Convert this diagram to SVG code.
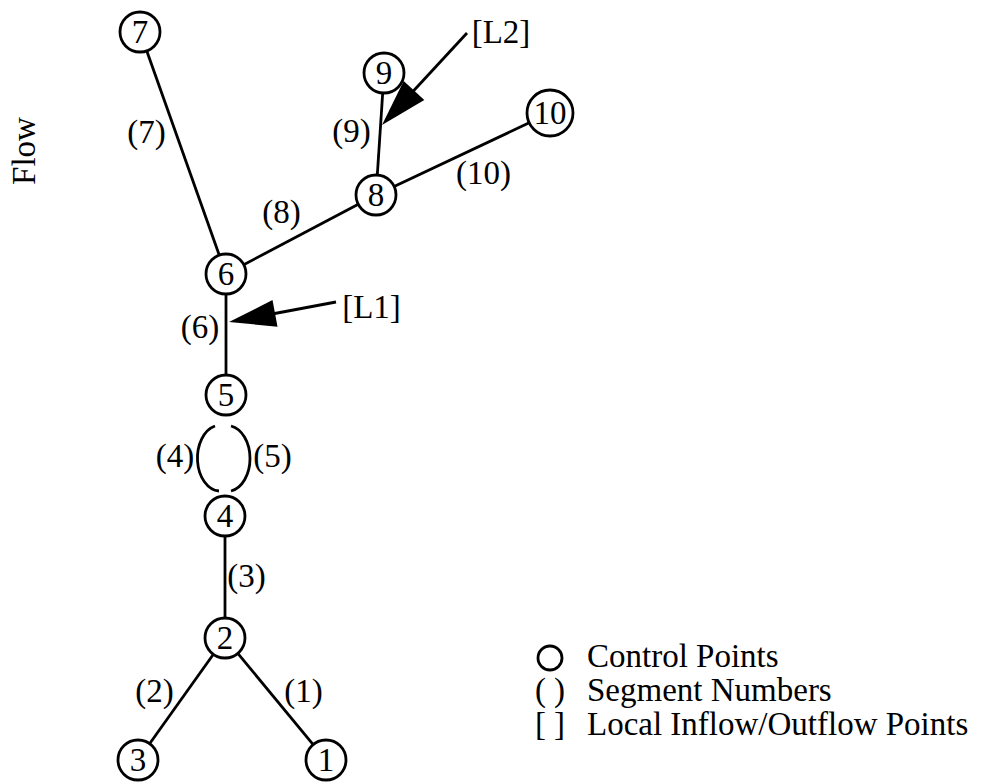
<svg xmlns="http://www.w3.org/2000/svg" width="984" height="782" viewBox="0 0 984 782">
<style>
text{font-family:"Liberation Serif","Times New Roman",serif;font-size:33px;fill:#000}
.n circle{fill:#fff;stroke:#000;stroke-width:2.8}
.n text{text-anchor:middle}
.c line,.c path{stroke:#000;stroke-width:2.8;fill:none}
.lbl{text-anchor:middle}
</style>
<rect width="984" height="782" fill="#fff"/>
<text transform="translate(35,151) rotate(-90)" text-anchor="middle">Flow</text>
<g id="connectors" class="c">
<line x1="146.7" y1="50.8" x2="219.3" y2="255.2"/>
<line x1="243.7" y1="264.7" x2="358.3" y2="204.3"/>
<line x1="382.7" y1="93" x2="377.3" y2="175"/>
<line x1="394.1" y1="186.5" x2="529.2" y2="122.8"/>
<line x1="226" y1="294" x2="226" y2="375"/>
<path d="M215 426 A23 33 0 0 0 219 491"/>
<path d="M231 426 A23 33 0 0 1 231 491"/>
<line x1="225" y1="536" x2="225" y2="618"/>
<line x1="213.4" y1="654.3" x2="149.6" y2="743.7"/>
<line x1="237.8" y1="653.4" x2="313.2" y2="744.6"/>
<line x1="336" y1="302" x2="272" y2="314"/>
<polygon points="229,322 272.5,300.1 277.5,326.7" fill="#000" stroke="none"/>
<line x1="467" y1="33" x2="412" y2="92.5"/>
<polygon points="382,125 403.7,80.9 424.3,99.9" fill="#000" stroke="none"/>
</g>
<g id="n7" class="n"><circle cx="140" cy="32" r="20"/><text x="140" y="43">7</text></g>
<g id="n9" class="n"><circle cx="384" cy="73" r="20"/><text x="384" y="84">9</text></g>
<g id="n10" class="n"><circle cx="550" cy="113" r="23"/><text x="550" y="124">10</text></g>
<g id="n8" class="n"><circle cx="376" cy="195" r="20"/><text x="376" y="206">8</text></g>
<g id="n6" class="n"><circle cx="226" cy="274" r="20"/><text x="226" y="285">6</text></g>
<g id="n5" class="n"><circle cx="226" cy="395" r="20"/><text x="226" y="406">5</text></g>
<g id="n4" class="n"><circle cx="225" cy="516" r="20"/><text x="225" y="527">4</text></g>
<g id="n2" class="n"><circle cx="225" cy="638" r="20"/><text x="225" y="649">2</text></g>
<g id="n3" class="n"><circle cx="138" cy="760" r="20"/><text x="138" y="771">3</text></g>
<g id="n1" class="n"><circle cx="326" cy="760" r="20"/><text x="326" y="771">1</text></g>
<g id="labels">
<text class="lbl" x="146.5" y="143">(7)</text>
<text class="lbl" x="281.5" y="223">(8)</text>
<text class="lbl" x="351.5" y="142">(9)</text>
<text class="lbl" x="483.5" y="184">(10)</text>
<text class="lbl" x="200" y="338">(6)</text>
<text class="lbl" x="175" y="467">(4)</text>
<text class="lbl" x="272.5" y="467">(5)</text>
<text class="lbl" x="246.5" y="587">(3)</text>
<text class="lbl" x="154.5" y="702">(2)</text>
<text class="lbl" x="303.5" y="702">(1)</text>
<text class="lbl" x="371.5" y="318">[L1]</text>
<text class="lbl" x="501" y="43">[L2]</text>
</g>
<g id="legend">
<circle cx="550" cy="658" r="12" fill="none" stroke="#000" stroke-width="2.8"/>
<text class="lbl" x="550" y="701">( )</text>
<text class="lbl" x="550" y="735">[ ]</text>
<text x="587" y="667">Control Points</text>
<text x="587" y="701">Segment Numbers</text>
<text x="587" y="735">Local Inflow/Outflow Points</text>
</g>
</svg>
